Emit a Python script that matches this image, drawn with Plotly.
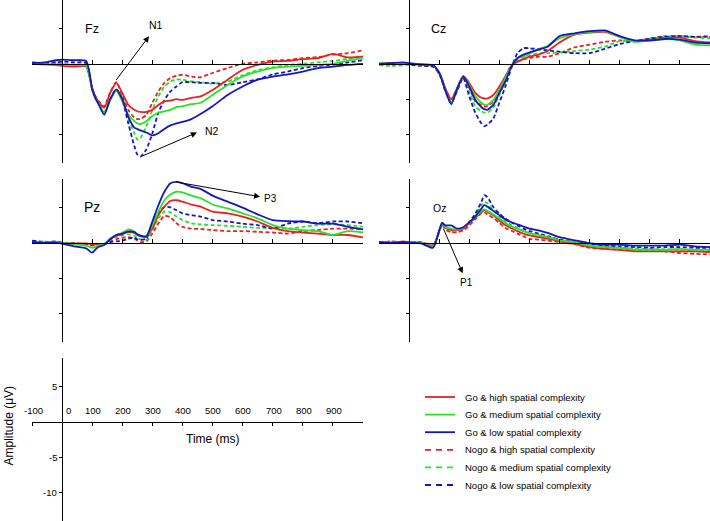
import plotly.graph_objects as go

# ---------------- data (time in ms, amplitude in microvolts) ----------------
time_ms = [-100, -60, -20, 0, 40, 80,
           100, 110, 120, 140, 160, 180, 200, 220, 240, 250, 260, 280,
           300, 320, 340, 360, 380, 400, 430, 460,
           500, 550, 600, 650, 700, 750, 800, 850, 900, 950, 1000]

fz_go_high = [0.1, 0.0, -0.2, -0.3, -0.4, -0.4,
              -3.5, -4.6, -5.3, -6.2, -4.1, -2.7, -4.1, -5.8, -6.5, -6.7, -6.8, -6.8,
              -6.5, -5.8, -5.3, -5.2, -5.0, -5.1, -4.8, -4.6,
              -3.7, -2.25, -0.85, -0.15, 0.3, 0.4, 0.65, 0.8, 1.4, 0.9, 1.0]
fz_go_med = [0.0, -0.1, -0.1, -0.1, -0.2, -0.3,
             -3.7, -4.8, -5.5, -7.0, -5.1, -3.8, -5.3, -7.2, -8.1, -8.4, -8.5, -8.1,
             -7.4, -6.9, -6.7, -6.5, -6.1, -6.0, -5.7, -5.5,
             -4.4, -3.0, -1.8, -1.1, -0.6, -0.4, -0.3, -0.15, 0.0, 0.45, 0.8]
fz_go_low = [0.1, 0.2, 0.5, 0.6, 0.5, 0.4,
             -3.6, -4.8, -5.6, -7.2, -5.0, -3.6, -5.0, -7.5, -9.0, -9.2, -9.4, -9.7,
             -10.1, -9.8, -9.2, -8.7, -8.4, -8.2, -7.8, -7.1,
             -6.0, -4.4, -3.2, -2.25, -1.8, -1.5, -1.1, -0.6, -0.4, -0.15, 0.0]
fz_nogo_high = [0.1, 0.1, 0.0, -0.1, -0.2, -0.3,
                -3.4, -4.5, -5.2, -6.0, -4.0, -2.6, -4.5, -6.5, -7.6, -7.8, -7.8, -7.2,
                -5.5, -3.9, -2.7, -2.0, -1.7, -1.55, -1.8, -1.9,
                -1.3, -0.6, 0.0, 0.2, 0.45, 0.55, 0.8, 0.95, 1.3, 1.5, 1.9]
fz_nogo_med = [0.0, 0.0, 0.0, 0.0, -0.1, -0.2,
               -3.6, -4.7, -5.4, -6.8, -5.0, -3.7, -4.8, -7.7, -9.8, -10.7, -10.5, -8.8,
               -6.5, -4.6, -3.2, -2.5, -2.2, -2.25, -2.5, -2.6,
               -2.8, -2.5, -1.6, -0.9, -0.5, -0.2, 0.0, 0.2, 0.4, 0.7, 1.0]
fz_nogo_low = [0.2, 0.1, 0.2, 0.3, 0.2, 0.1,
               -3.5, -4.6, -5.4, -7.0, -5.0, -3.6, -5.1, -8.4, -11.6, -12.8, -13.1, -12.1,
               -9.8, -6.9, -5.1, -3.9, -3.2, -2.6, -2.6, -2.7,
               -2.7, -3.0, -2.6, -2.2, -1.5, -1.1, -0.6, -0.3, -0.1, 0.2, 0.5]

cz_go_high = [0.0, 0.1, 0.0, 0.0, -0.1, -0.2,
              -1.2, -2.2, -3.4, -5.0, -3.4, -1.7, -2.7, -4.1, -4.8, -4.9, -4.9, -4.4,
              -3.2, -1.8, -0.3, 0.3, 0.65, 1.0, 1.3, 1.8,
              3.0, 4.1, 4.4, 4.5, 3.8, 3.2, 3.3, 3.6, 3.7, 3.2, 3.0]
cz_go_med = [0.1, 0.0, 0.0, 0.0, -0.1, -0.2,
             -1.3, -2.4, -3.7, -5.6, -3.5, -1.8, -3.0, -4.6, -5.5, -5.8, -5.8, -5.1,
             -3.7, -2.0, -0.3, 0.8, 1.0, 1.4, 2.05, 2.5,
             3.6, 4.2, 4.5, 4.6, 3.8, 3.1, 3.3, 3.5, 3.3, 2.7, 2.6]
cz_go_low = [0.0, 0.1, 0.2, 0.1, -0.1, -0.2,
             -1.3, -2.4, -3.7, -5.7, -3.5, -1.8, -3.2, -5.1, -6.1, -6.4, -6.5, -5.8,
             -4.1, -2.5, -0.4, 0.8, 1.3, 1.6, 2.0, 2.4,
             3.9, 4.3, 4.6, 4.7, 3.9, 3.3, 3.3, 3.5, 3.4, 3.0, 2.9]
cz_nogo_high = [0.0, -0.1, 0.0, 0.0, -0.2, -0.3,
                -1.3, -2.3, -3.5, -5.0, -3.4, -1.8, -3.4, -5.3, -5.8, -6.0, -6.0, -5.3,
                -3.7, -1.8, -0.2, 0.3, 0.65, 0.8, 1.0, 1.0,
                1.5, 2.3, 2.7, 3.1, 3.3, 3.2, 3.6, 3.9, 3.9, 3.8, 3.8]
cz_nogo_med = [-0.2, -0.3, -0.2, -0.1, -0.2, -0.4,
               -1.4, -2.4, -3.7, -5.4, -3.6, -1.9, -3.9, -6.0, -6.7, -6.9, -6.9, -6.2,
               -4.4, -2.25, -0.3, 0.55, 0.95, 1.1, 1.5, 1.5,
               1.6, 1.8, 2.0, 2.4, 3.2, 3.2, 3.5, 3.8, 3.9, 3.7, 3.6]
cz_nogo_low = [0.0, 0.1, 0.0, -0.1, -0.3, -0.4,
               -1.4, -2.5, -3.8, -5.5, -3.8, -2.0, -4.6, -6.9, -8.4, -8.8, -8.6, -7.7,
               -5.5, -3.2, -0.6, 1.5, 2.2, 2.2, 2.05, 1.9,
               1.7, 1.5, 1.5, 2.1, 2.8, 3.2, 3.5, 3.8, 3.9, 3.8, 3.9]

pz_go_high = [0.0, 0.0, 0.1, 0.0, -0.1, -0.1,
              -0.2, -0.2, -0.2, -0.2, 0.5, 1.0, 1.2, 1.5, 1.4, 1.1, 0.9, 0.9,
              2.0, 3.9, 5.1, 5.9, 6.0, 5.8, 5.4, 5.1,
              4.4, 4.15, 3.7, 3.0, 2.1, 1.65, 1.45, 1.3, 1.1, 1.1, 0.75]
pz_go_med = [0.0, 0.1, 0.0, 0.0, -0.2, -0.4,
             -0.7, -0.6, -0.4, -0.2, 0.6, 1.1, 1.4, 1.9, 1.6, 1.2, 1.0, 0.9,
             2.5, 4.4, 6.0, 6.8, 7.2, 7.1, 6.65, 6.3,
             5.4, 4.85, 4.15, 3.45, 2.5, 2.0, 1.8, 1.65, 1.1, 1.65, 1.45]
pz_go_low = [0.1, 0.0, 0.0, -0.1, -0.5, -0.8,
             -1.4, -1.0, -0.6, -0.3, 0.5, 1.1, 1.3, 1.6, 1.5, 1.2, 1.0, 0.9,
             3.0, 5.3, 7.2, 8.4, 8.6, 8.4, 7.9, 7.6,
             6.65, 5.8, 4.95, 4.0, 3.2, 3.05, 3.0, 2.7, 2.7, 2.25, 1.9]
pz_nogo_high = [0.2, 0.1, 0.0, 0.0, -0.1, -0.2,
                -0.3, -0.3, -0.2, -0.2, 0.2, 0.5, 0.7, 0.8, 0.6, 0.3, 0.1, 0.2,
                1.3, 2.75, 3.8, 3.6, 2.75, 2.25, 2.0, 1.95,
                1.8, 1.65, 1.65, 1.55, 1.45, 1.3, 1.65, 1.8, 2.0, 2.0, 1.9]
pz_nogo_med = [0.1, 0.2, 0.0, 0.0, -0.1, -0.3,
               -0.4, -0.4, -0.3, -0.2, 0.4, 0.8, 1.0, 1.2, 1.0, 0.7, 0.5, 0.4,
               1.8, 3.45, 4.4, 4.3, 3.7, 3.2, 2.75, 2.6,
               2.5, 2.4, 2.25, 2.1, 2.1, 2.0, 2.25, 2.5, 2.6, 2.5, 2.25]
pz_nogo_low = [0.3, 0.1, 0.2, 0.0, -0.1, -0.2,
               -0.3, -0.3, -0.3, -0.2, 0.1, 0.2, 0.3, 0.6, 0.7, 0.5, 0.4, 0.6,
               2.5, 4.15, 5.05, 5.0, 4.6, 4.15, 3.9, 3.7,
               3.2, 3.0, 2.7, 2.5, 2.0, 2.7, 3.0, 2.75, 3.0, 3.0, 2.75]

oz_go_high = [0.1, 0.0, 0.2, 0.1, 0.0, -0.4,
              1.6, 2.7, 2.2, 1.8, 1.8, 2.0, 2.8, 3.5, 4.3, 4.6, 4.35, 3.9,
              3.15, 2.5, 2.05, 1.65, 1.3, 1.05, 0.8, 0.6,
              0.25, -0.15, -0.6, -0.85, -1.0, -1.2, -1.2, -1.2, -1.2, -1.2, -1.3]
oz_go_med = [0.0, 0.1, 0.0, 0.0, 0.0, -0.5,
             1.7, 2.8, 2.2, 2.0, 1.85, 2.1, 2.9, 3.6, 4.5, 4.7, 4.5, 4.0,
             3.4, 2.8, 2.3, 2.0, 1.65, 1.35, 1.1, 0.85,
             0.35, 0.1, -0.4, -0.6, -0.7, -1.0, -1.0, -1.0, -0.85, -1.0, -1.0]
oz_go_low = [0.1, 0.0, 0.1, 0.0, -0.1, -0.7,
             1.75, 2.8, 2.45, 2.45, 2.0, 2.2, 2.9, 3.7, 4.8, 5.3, 5.1, 4.5,
             3.9, 3.3, 2.9, 2.6, 2.3, 2.0, 1.75, 1.4,
             0.8, 0.35, -0.05, -0.25, -0.25, -0.4, -0.4, -0.4, -0.25, -0.5, -0.6]
oz_nogo_high = [0.0, 0.2, 0.1, 0.1, 0.1, -0.3,
                1.5, 2.6, 1.9, 1.5, 1.5, 1.75, 2.45, 3.3, 4.2, 4.3, 4.0, 3.5,
                2.8, 2.1, 1.7, 1.3, 0.9, 0.55, 0.45, 0.3,
                0.1, -0.2, -0.7, -0.85, -1.0, -1.1, -1.1, -1.2, -1.45, -1.55, -1.65]
oz_nogo_med = [0.1, 0.0, 0.0, 0.1, 0.0, -0.4,
               1.6, 2.7, 2.1, 1.9, 1.85, 2.1, 2.9, 3.8, 5.3, 5.75, 5.6, 4.6,
               3.7, 3.0, 2.5, 2.1, 1.7, 1.35, 1.0, 0.75,
               0.35, 0.1, -0.3, -0.5, -0.7, -0.8, -0.9, -0.9, -1.0, -1.0, -1.1]
oz_nogo_low = [0.0, 0.1, 0.0, 0.0, 0.0, -0.5,
               1.7, 2.8, 2.2, 1.85, 1.85, 2.1, 2.9, 4.1, 5.75, 6.7, 6.45, 5.05,
               4.1, 3.4, 2.9, 2.45, 2.0, 1.65, 1.3, 0.95,
               0.45, 0.1, -0.15, -0.4, -0.5, -0.6, -0.7, -0.6, -0.6, -0.7, -0.7]

condition_names = ["Go & high spatial complexity", "Go & medium spatial complexity",
                   "Go & low spatial complexity", "Nogo & high spatial complexity",
                   "Nogo & medium spatial complexity", "Nogo & low spatial complexity"]

x_ticks_panel = [100, 200, 300, 400, 500, 600, 700, 800, 900]
x_ticks_scale = [-100, 0, 100, 200, 300, 400, 500, 600, 700, 800, 900]
y_ticks = [-10, -5, 5]

# ---------------- styling ----------------
FONT = "Liberation Sans, Arial, Helvetica, sans-serif"
RED, GREEN, BLUE = "rgb(236,32,32)", "rgb(40,226,40)", "rgb(22,22,190)"
cond_colors = [RED, GREEN, BLUE, RED, GREEN, BLUE]
cond_dash = ["solid", "solid", "solid", "4px,2.5px", "4px,2.5px", "4px,2.5px"]
legend_dash = ["solid", "solid", "solid", "6px,5px", "6px,5px", "6px,5px"]

panels = [
    ("x", "y", [fz_go_high, fz_go_med, fz_go_low, fz_nogo_high, fz_nogo_med, fz_nogo_low]),
    ("x2", "y2", [cz_go_high, cz_go_med, cz_go_low, cz_nogo_high, cz_nogo_med, cz_nogo_low]),
    ("x3", "y3", [pz_go_high, pz_go_med, pz_go_low, pz_nogo_high, pz_nogo_med, pz_nogo_low]),
    ("x4", "y4", [oz_go_high, oz_go_med, oz_go_low, oz_nogo_high, oz_nogo_med, oz_nogo_low]),
]

fig = go.Figure()
draw_order = [3, 4, 5, 0, 1, 2]  # dashed first, solid on top
for p, (xa, ya, series) in enumerate(panels):
    for i in draw_order:
        fig.add_trace(go.Scatter(
            x=time_ms, y=series[i], xaxis=xa, yaxis=ya, mode="lines",
            name=condition_names[i], legendgroup=condition_names[i],
            showlegend=False,
            line=dict(color=cond_colors[i], width=1.8, dash=cond_dash[i],
                      shape="spline", smoothing=0.6),
            hoverinfo="skip"))
# empty trace for the scale panel
fig.add_trace(go.Scatter(x=[None], y=[None], xaxis="x5", yaxis="y5",
                         showlegend=False, hoverinfo="skip"))

W, H = 710, 521
XR = [-100, 1000]
YR = [-14, 9]
left_dom = [32 / W, 363 / W]
right_dom = [379 / W, 1.0]
rows = [[1 - 163 / H, 1.0], [1 - 342 / H, 1 - 179 / H], [0.0, 1 - 358 / H]]


def zero_x(dom):
    return dom[0] + (dom[1] - dom[0]) * (0 - XR[0]) / (XR[1] - XR[0])


def zero_y(dom):
    return dom[0] + (dom[1] - dom[0]) * (0 - YR[0]) / (YR[1] - YR[0])


def xaxis(dom, row, scale=False):
    d = dict(domain=dom, range=XR, anchor="free", position=zero_y(row),
             showline=True, linecolor="black", linewidth=1, showgrid=False,
             zeroline=False, ticklen=4, tickcolor="black", tickwidth=1,
             showticklabels=False, fixedrange=True)
    if scale:
        d.update(tickvals=x_ticks_scale, ticks="outside", ticklen=3)
    else:
        d.update(tickvals=x_ticks_panel, ticks="inside")
    return d


def yaxis(dom, row):
    return dict(domain=row, range=YR, anchor="free", position=zero_x(dom),
                showline=True, linecolor="black", linewidth=1, showgrid=False,
                zeroline=False, ticks="outside", ticklen=3, tickcolor="black",
                tickwidth=1, tickvals=y_ticks, showticklabels=False, fixedrange=True)


fig.update_layout(
    width=W, height=H, margin=dict(l=0, r=0, t=0, b=0),
    paper_bgcolor="white", plot_bgcolor="rgba(0,0,0,0)",
    font=dict(family=FONT, color="black"),
    xaxis=xaxis(left_dom, rows[0]), yaxis=yaxis(left_dom, rows[0]),
    xaxis2=xaxis(right_dom, rows[0]), yaxis2=yaxis(right_dom, rows[0]),
    xaxis3=xaxis(left_dom, rows[1]), yaxis3=yaxis(left_dom, rows[1]),
    xaxis4=xaxis(right_dom, rows[1]), yaxis4=yaxis(right_dom, rows[1]),
    xaxis5=xaxis(left_dom, rows[2], scale=True), yaxis5=yaxis(left_dom, rows[2]),
    showlegend=False,
)


def label(text, xref, yref, x, y, size, xanchor="center", xshift=0):
    fig.add_annotation(text=text, xref=xref, yref=yref, x=x, y=y, showarrow=False,
                       font=dict(family=FONT, size=size, color="black"),
                       xanchor=xanchor, yanchor="middle", xshift=xshift)


def arrow(xref, yref, tail, head):
    fig.add_annotation(text="", xref=xref, yref=yref, axref=xref, ayref=yref,
                       x=head[0], y=head[1], ax=tail[0], ay=tail[1], showarrow=True,
                       arrowhead=2, arrowsize=1.2, arrowwidth=1, arrowcolor="black",
                       standoff=0, startstandoff=0)


# panel labels
label("Fz", "x", "y", 100, 4.9, 12.5)
label("Cz", "x2", "y2", 98, 4.9, 12.5)
label("Pz", "x3", "y3", 101, 5.0, 14)
label("Oz", "x4", "y4", 101, 4.9, 10.5)

# component arrows
arrow("x", "y", (176, -2.5), (289, 3.9))
label("N1", "x", "y", 311, 5.5, 10.5)
arrow("x", "y", (262, -13.1), (448, -9.7))
label("N2", "x", "y", 498, -9.5, 10.5)
arrow("x3", "y3", (375, 8.6), (658, 6.5))
label("P3", "x3", "y3", 694, 6.2, 10)
arrow("x4", "y4", (112, 2.2), (178, -4.3))
label("P1", "x4", "y4", 192, -5.6, 10)

# scale panel tick labels (above the time axis / left of the amplitude axis)
for t in x_ticks_scale:
    shift = 6.5 if t == 0 else (1.5 if t < 0 else 0.8)
    label(str(t), "x5", "y5", t, 1.65, 9.5, xshift=shift)
for v in y_ticks:
    fig.add_annotation(text=str(v), xref="paper", yref="y5", x=58.8 / W, y=v,
                       showarrow=False, xanchor="right", yanchor="middle",
                       font=dict(family=FONT, size=9.5, color="black"))

# scale-panel titles
label("Time (ms)", "x5", "paper", 500, 1 - 439 / H, 12)
fig.add_annotation(text="Amplitude (\u03bcV)", xref="paper", yref="paper",
                   x=8.5 / W, y=1 - 426 / H, showarrow=False, textangle=-90,
                   font=dict(family=FONT, size=12, color="black"),
                   xanchor="center", yanchor="middle")

# key (drawn in figure coordinates)
legend_rows_px = [397, 414.6, 432.2, 449.8, 467.4, 485]
for i, name in enumerate(condition_names):
    yp = 1 - legend_rows_px[i] / H
    fig.add_shape(type="line", xref="paper", yref="paper",
                  x0=425 / W, x1=455 / W, y0=yp, y1=yp,
                  line=dict(color=cond_colors[i], width=1.8, dash=legend_dash[i]))
    fig.add_annotation(text=name, xref="paper", yref="paper", x=463 / W, y=yp,
                       showarrow=False, xanchor="left", yanchor="middle",
                       font=dict(family=FONT, size=9.5, color="black"))

fig.write_html("out.html", config={"displayModeBar": False},
               post_script="document.body.style.margin='0px';")
